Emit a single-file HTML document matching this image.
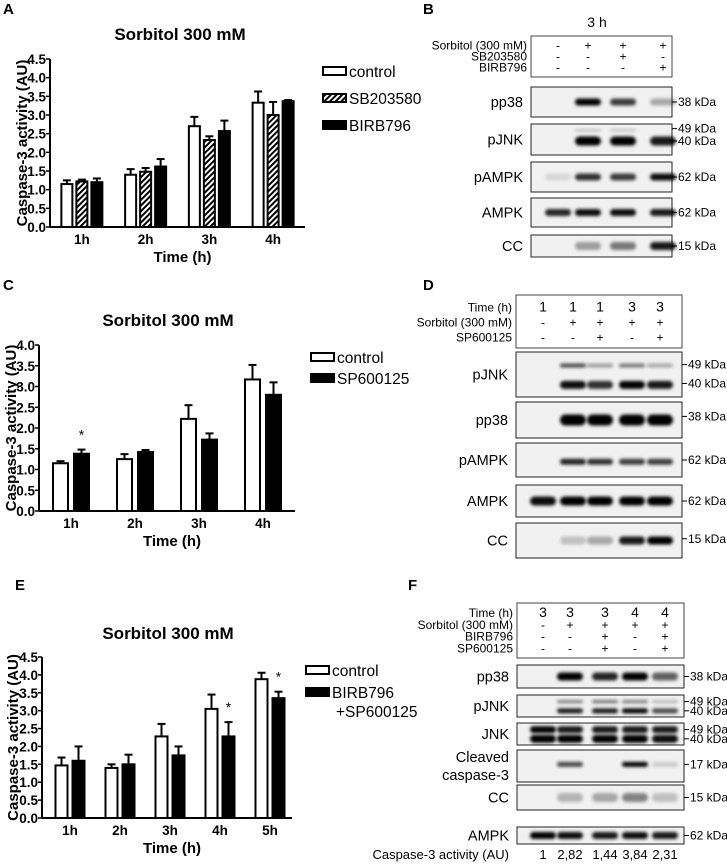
<!DOCTYPE html>
<html><head><meta charset="utf-8"><style>
body{margin:0;background:#fff}
svg{display:block;font-family:"Liberation Sans",Arial,sans-serif}
</style></head><body>
<svg id="fig" width="727" height="864" viewBox="0 0 727 864">
<defs>
<filter id="blur" x="-50%" y="-100%" width="200%" height="300%"><feGaussianBlur stdDeviation="1.6"/></filter>
<pattern id="hatch" width="4" height="4" patternUnits="userSpaceOnUse" patternTransform="rotate(45)"><rect width="4" height="4" fill="#fff"/><rect width="2" height="4" fill="#000"/></pattern>
</defs>
<g font-weight="bold" font-size="15">
<text x="3" y="14">A</text>
<text x="423" y="14">B</text>
<text x="3" y="290">C</text>
<text x="423" y="290">D</text>
<text x="15" y="590">E</text>
<text x="408" y="590">F</text>
</g>
<g id="charts"></g>
<g id="blots"></g>
</svg>
<script>
// Chart A
const catsA = ['1h','2h','3h','4h'];
const ctrlA = [1.15,1.4,2.7,3.33];
const ctrlAErr = [0.1,0.15,0.25,0.3];
const sbA = [1.22,1.48,2.33,3.0];
const sbAErr = [0.05,0.1,0.1,0.35];
const birbA = [1.2,1.62,2.57,3.37];
const birbAErr = [0.1,0.2,0.28,0.03];
const ticksA = ['0.0','0.5','1.0','1.5','2.0','2.5','3.0','3.5','4.0','4.5'];
// Chart C
const catsC = ['1h','2h','3h','4h'];
const ctrlC = [1.15,1.25,2.22,3.17];
const ctrlCErr = [0.05,0.12,0.33,0.35];
const spC = [1.38,1.42,1.72,2.8];
const spCErr = [0.1,0.05,0.15,0.3];
const ticksC = ['0.0','0.5','1.0','1.5','2.0','2.5','3.0','3.5','4.0'];
const starsC = [1,0,0,0];
// Chart E
const catsE = ['1h','2h','3h','4h','5h'];
const ctrlE = [1.47,1.4,2.28,3.05,3.88];
const ctrlEErr = [0.22,0.1,0.35,0.4,0.18];
const bsE = [1.6,1.5,1.75,2.28,3.35];
const bsEErr = [0.4,0.27,0.25,0.4,0.18];
const ticksE = ['0.0','0.5','1.0','1.5','2.0','2.5','3.0','3.5','4.0','4.5'];
const starsE = [0,0,0,1,1];

const NS='http://www.w3.org/2000/svg';
function mk(tag,attrs,parent,txt){const e=document.createElementNS(NS,tag);for(const k in attrs)e.setAttribute(k,attrs[k]);if(txt!==undefined)e.textContent=txt;parent.appendChild(e);return e;}
const charts=document.getElementById('charts');

function chart(o){
  const g=mk('g',{},charts);
  
  
  const ymax=parseFloat(o.ticks[o.ticks.length-1]);
  const ys=v=>o.y0-(v/ymax)*(o.y0-o.ytop);
  const n=o.cats.length, gw=(o.xend-o.x0)/n;
  const t=mk('text',{x:o.tx,y:o.ty,'text-anchor':'middle','font-size':17,'font-weight':'bold'},g,'Sorbitol 300 mM');
  
  
  mk('line',{x1:o.x0,y1:o.ytop,x2:o.x0,y2:o.y0,stroke:'#000','stroke-width':2},g);
  mk('line',{x1:o.x0,y1:o.y0,x2:o.xend,y2:o.y0,stroke:'#000','stroke-width':2},g);
  o.ticks.forEach(tk=>{const y=ys(parseFloat(tk));
    mk('line',{x1:o.x0-4,y1:y,x2:o.x0,y2:y,stroke:'#000','stroke-width':1.5},g);
    const l=mk('text',{x:o.x0-4,y:y+5,'text-anchor':'end','font-size':13.5,'font-weight':'bold'},g,tk);
    
    
  });
  const yl=mk('text',{x:0,y:0,transform:`translate(${o.ylx},${(o.y0+o.ytop)/2}) rotate(-90)`,'text-anchor':'middle','font-size':15,'font-weight':'bold'},g,'Caspase-3 activity (AU)');
  
  
  const xl=mk('text',{x:(o.x0+o.xend)/2+5,y:o.y0+35,'text-anchor':'middle','font-size':15,'font-weight':'bold','xml:space':'preserve'},g,o.xtitle);
  
  
  const ns=o.series.length, bw=o.bw, gap=o.gap;
  o.cats.forEach((c,i)=>{
    const cx=o.x0+gw*(i+0.5)+o.shift;
    const xt=mk('text',{x:cx,y:o.y0+17,'text-anchor':'middle','font-size':13.5,'font-weight':'bold'},g,c);
    
    
    const tot=ns*bw+(ns-1)*gap;
    o.series.forEach((s,j)=>{
      const x=cx-tot/2+j*(bw+gap), v=s.vals[i], e=s.err[i];
      mk('line',{x1:x+bw/2,y1:ys(v),x2:x+bw/2,y2:ys(v+e),stroke:'#000','stroke-width':2},g);
      mk('line',{x1:x+bw/2-4,y1:ys(v+e),x2:x+bw/2+4,y2:ys(v+e),stroke:'#000','stroke-width':2},g);
      const r=mk('rect',{x:x+1,y:ys(v),width:bw-2,height:o.y0-ys(v),fill:s.fill,stroke:'#000','stroke-width':2},g);
      
      
      if(s.stars&&s.stars[i]){const st=mk('text',{x:x+bw/2,y:ys(v+e)-10,'text-anchor':'middle','font-size':14},g,'*');
        
        }
    });
  });
  o.series.forEach((s,j)=>{
    const ly=o.ly+j*o.lstep;
    const lg=mk('g',{},g);
    
    
    mk('rect',{x:o.lx+1,y:ly+1,width:23,height:8,fill:s.fill,stroke:'#000','stroke-width':2},lg);
    s.label.forEach((lt,k)=>mk('text',{x:o.lx+27+(k?4:0),y:ly+11+k*19,'font-size':15.5},lg,lt));
  });
}
chart({name:'chart-a',cats:catsA,ticks:ticksA,x0:50,xend:305,y0:227,ytop:59,ylx:27,tx:180,ty:40,xtitle:'Time  (h)',bw:13,gap:2,shift:0,lx:322,ly:66,lstep:27,
  series:[{key:'control',vals:ctrlA,err:ctrlAErr,fill:'#fff',label:['control']},{key:'sb203580',vals:sbA,err:sbAErr,fill:'url(#hatch)',label:['SB203580']},{key:'birb796',vals:birbA,err:birbAErr,fill:'#000',label:['BIRB796']}]});
chart({name:'chart-c',cats:catsC,ticks:ticksC,x0:39,xend:295,y0:511,ytop:345,ylx:16,tx:168,ty:326,xtitle:'Time (h)',bw:17,gap:4,shift:0,lx:310,ly:352,lstep:21,
  series:[{key:'control',vals:ctrlC,err:ctrlCErr,fill:'#fff',label:['control']},{key:'sp600125',vals:spC,err:spCErr,fill:'#000',label:['SP600125'],stars:starsC}]});
chart({name:'chart-e',cats:catsE,ticks:ticksE,x0:42,xend:292,y0:818,ytop:657,ylx:18,tx:168,ty:639,xtitle:'Time  (h)',bw:14,gap:3,shift:3,lx:305,ly:665,lstep:22,
  series:[{key:'control',vals:ctrlE,err:ctrlEErr,fill:'#fff',label:['control']},{key:'birb-sp',vals:bsE,err:bsEErr,fill:'#000',label:['BIRB796','+SP600125'],stars:starsE}]});

// Blots
const blots=document.getElementById('blots');
function blot(o){
  const g=mk('g',{},blots);
  
  
  if(o.top){const t=mk('text',{x:o.top[0],y:o.top[1],'text-anchor':'middle','font-size':14},g,o.top[2]);}
  mk('rect',{x:o.x0,y:o.hdr[0],width:o.x1-o.x0,height:o.hdr[1]-o.hdr[0],fill:'none',stroke:'#444','stroke-width':1},g);
  const hs=(o.hdr[1]-o.hdr[0]-8)/o.hrows.length;
  o.hrows.forEach((r,i)=>{
    const y=o.hdr[0]+6+hs*(i+0.7);
    mk('text',{x:o.x0-4,y:y,'text-anchor':'end','font-size':12},g,r[0]);
    r[1].forEach((s,k)=>mk('text',{x:o.lanes[k],y:y,'text-anchor':'middle','font-size':r[0].startsWith('Time')?14:12},g,s));
  });
  o.rows.forEach(r=>{
    const rg=mk('g',{},g);
    
    
    mk('rect',{x:o.x0,y:r.y0,width:o.x1-o.x0,height:r.y1-r.y0,fill:'#f1f1f1',stroke:'#222','stroke-width':1},rg);
    const lines=r.label.split('|');
    lines.forEach((l,k)=>mk('text',{x:o.x0-8,y:(r.y0+r.y1)/2+5+(k-(lines.length-1)/2)*18,'text-anchor':'end','font-size':14.5},rg,l));
    r.bands.forEach(b=>{const y=r.y0+(r.y1-r.y0)*b.pos;
      b.int.forEach((v,k)=>{if(v>0)mk('rect',{x:o.lanes[k]-13,y:y-b.h/2,width:26,height:b.h,rx:b.h/2,fill:'#000',opacity:v,filter:'url(#blur)'},rg);});
    });
    r.kda.forEach(kd=>{const y=r.y0+(r.y1-r.y0)*kd[0];
      mk('line',{x1:o.x1,y1:y,x2:o.x1+5,y2:y,stroke:'#000','stroke-width':1},rg);
      mk('text',{x:o.x1+6,y:y+4,'font-size':12},rg,kd[1]);});
  });
  if(o.foot){mk('text',{x:o.x0-8,y:o.foot[0],'text-anchor':'end','font-size':13},g,'Caspase-3 activity (AU)');
    o.foot[1].forEach((s,k)=>mk('text',{x:o.lanes[k],y:o.foot[0],'text-anchor':'middle','font-size':13},g,s));}
}
blot({name:'blot-b',x0:531,x1:672,hdr:[36,77],lanes:[558,588,623,663],top:[597,27,'3 h'],
  hrows:[['Sorbitol (300 mM)',['-','+','+','+']],['SB203580',['-','-','+','-']],['BIRB796',['-','-','-','+']]],
  rows:[{label:'pp38',y0:87,y1:117,bands:[{pos:0.5,h:7,int:[0,1,0.75,0.3]}],kda:[[0.5,'38 kDa']]},
   {label:'pJNK',y0:124,y1:155,bands:[{pos:0.55,h:9,int:[0,1,1,0.9]},{pos:0.2,h:2,int:[0,0.25,0.25,0]}],kda:[[0.15,'49 kDa'],[0.55,'40 kDa']]},
   {label:'pAMPK',y0:162,y1:192,bands:[{pos:0.5,h:7,int:[0.1,0.8,0.75,0.95]}],kda:[[0.5,'62 kDa']]},
   {label:'AMPK',y0:198,y1:227,bands:[{pos:0.5,h:7,int:[0.85,0.95,0.95,0.9]}],kda:[[0.5,'62 kDa']]},
   {label:'CC',y0:235,y1:257,bands:[{pos:0.5,h:8,int:[0,0.35,0.5,0.9]}],kda:[[0.5,'15 kDa']]}]});
blot({name:'blot-d',x0:516,x1:682,hdr:[295,348],lanes:[543,573,600,632,660],
  hrows:[['Time (h)',['1','1','1','3','3']],['Sorbitol (300 mM)',['-','+','+','+','+']],['SP600125',['-','-','+','-','+']]],
  rows:[{label:'pJNK',y0:352,y1:397,bands:[{pos:0.73,h:8,int:[0,0.95,0.8,1,0.9]},{pos:0.3,h:4,int:[0,0.7,0.35,0.5,0.3]}],kda:[[0.28,'49 kDa'],[0.7,'40 kDa']]},
   {label:'pp38',y0:402,y1:438,bands:[{pos:0.5,h:11,int:[0,1,1,1,1]}],kda:[[0.4,'38 kDa']]},
   {label:'pAMPK',y0:443,y1:477,bands:[{pos:0.55,h:6,int:[0,0.85,0.8,0.75,0.75]}],kda:[[0.5,'62 kDa']]},
   {label:'AMPK',y0:485,y1:517,bands:[{pos:0.5,h:9,int:[0.95,1,1,1,1]}],kda:[[0.5,'62 kDa']]},
   {label:'CC',y0:523,y1:558,bands:[{pos:0.5,h:8,int:[0,0.2,0.3,0.9,1]}],kda:[[0.45,'15 kDa']]}]});
blot({name:'blot-f',x0:517,x1:684,hdr:[603,658],lanes:[543,570,605,635,665],
  hrows:[['Time (h)',['3','3','3','4','4']],['Sorbitol (300 mM)',['-','+','+','+','+']],['BIRB796',['-','-','+','-','+']],['SP600125',['-','-','+','-','+']]],
  rows:[{label:'pp38',y0:665,y1:688,bands:[{pos:0.5,h:8,int:[0,1,0.85,1,0.6]}],kda:[[0.5,'38 kDa']]},
   {label:'pJNK',y0:695,y1:717,bands:[{pos:0.72,h:5,int:[0,0.9,0.9,1,0.7]},{pos:0.3,h:3,int:[0,0.5,0.55,0.5,0.25]}],kda:[[0.3,'49 kDa'],[0.72,'40 kDa']]},
   {label:'JNK',y0:723,y1:745,bands:[{pos:0.3,h:7,int:[1,0.9,0.9,0.9,0.9]},{pos:0.72,h:8,int:[1,1,1,1,0.95]}],kda:[[0.3,'49 kDa'],[0.72,'40 kDa']]},
   {label:'Cleaved|caspase-3',y0:750,y1:782,bands:[{pos:0.45,h:5,int:[0,0.7,0,1,0.15]}],kda:[[0.45,'17 kDa']]},
   {label:'CC',y0:785,y1:810,bands:[{pos:0.5,h:9,int:[0,0.25,0.3,0.45,0.2]}],kda:[[0.5,'15 kDa']]},
   {label:'AMPK',y0:827,y1:844,bands:[{pos:0.5,h:7,int:[1,0.95,0.9,0.95,0.9]}],kda:[[0.5,'62 kDa']]}],
  foot:[859,['1','2,82','1,44','3,84','2,31']]});
</script>
</body></html>
